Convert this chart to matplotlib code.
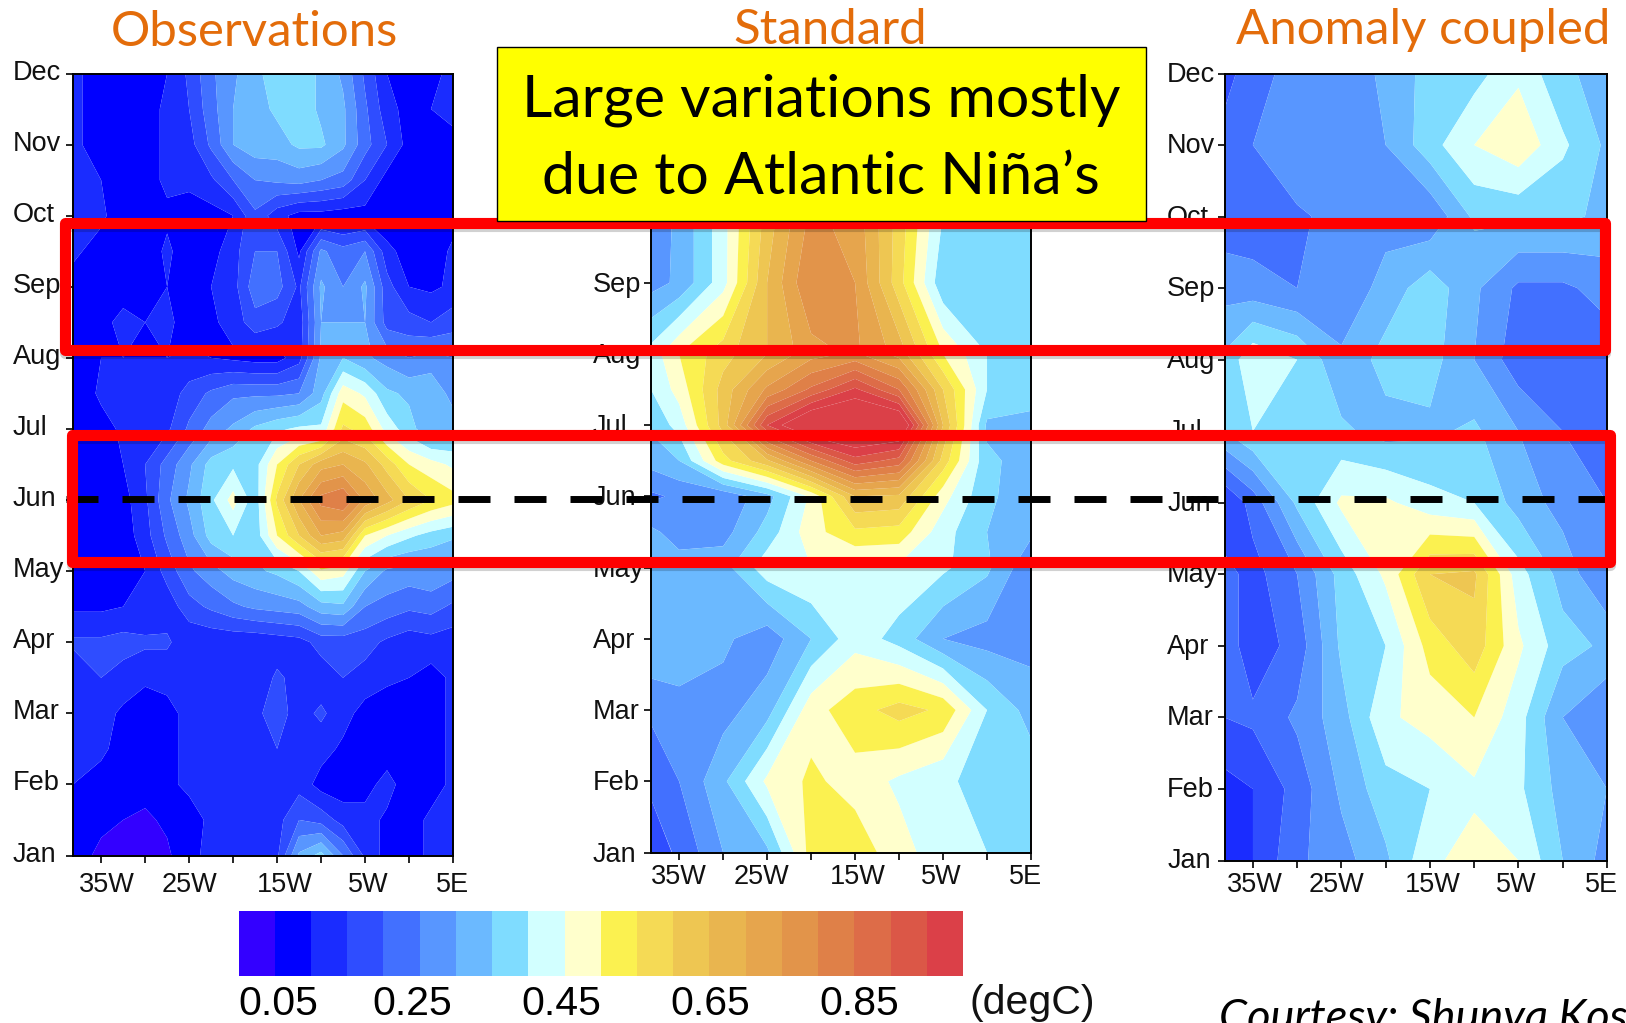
import numpy as np
import matplotlib
matplotlib.use("Agg")
import matplotlib.pyplot as plt
from matplotlib.colors import ListedColormap, BoundaryNorm
from matplotlib.cm import ScalarMappable
from matplotlib.lines import Line2D
from matplotlib.patches import Rectangle
from matplotlib.transforms import ScaledTranslation

W, H = 1626, 1023
plt.rcParams["lines.scale_dashes"] = False

months = ["Jan", "Feb", "Mar", "Apr", "May", "Jun", "Jul", "Aug", "Sep", "Oct", "Nov", "Dec"]
# Oct to Dec of the middle panel sit behind the yellow note
std_months = ["Jan", "Feb", "Mar", "Apr", "May", "Jun", "Jul", "Aug", "Sep", "", "", ""]
lon_ticks = [-35, -30, -25, -20, -15, -10, -5, 0, 5]
lon_labels = ["35W", "", "25W", "", "15W", "", "5W", "", "5E"]
cbar_ticks = [0.05, 0.25, 0.45, 0.65, 0.85]
cbar_labels = ["0.05", "0.25", "0.45", "0.65", "0.85"]

colors = ["#3300ff", "#0000ff", "#1a2cff", "#2f4dff", "#4270ff", "#5896ff", "#6bb9ff",
          "#7fdcff", "#d2ffff", "#ffffcc", "#fbf150", "#f5da55", "#eec652", "#e9b54f",
          "#e6a54d", "#e2944a", "#df8048", "#dd6c48", "#db5747", "#db4048"]
levels = np.arange(0, 1.0001, 0.05)

# observations, hundredths of degC, half month steps, Dec at the top
obs_lons = [-38.2, -35, -32.5, -30, -27.5, -25, -22.5, -20, -17.5, -15, -12.5, -10, -7.5, -5, -2.5, 0, 2.5, 5]
obs_rows = [
    [11, 8, 7, 7, 10, 16, 24, 29, 34, 37, 38, 34, 29, 19, 10, 9, 9, 11],
    [11, 8, 8, 8, 11, 15, 23, 30, 33, 36, 38, 34, 31, 21, 12, 8, 10, 11],
    [11, 8, 8, 8, 11, 13, 21, 30, 33, 33, 36, 36, 31, 22, 15, 8, 9, 9],
    [11, 10, 8, 8, 11, 11, 14, 20, 25, 26, 27, 25, 23, 15, 8, 8, 8, 9],
    [11, 11, 7, 6, 9, 8, 8, 10, 19, 12, 8, 8, 7, 8, 5, 7, 6, 8],
    [11, 8, 7, 7, 11, 7, 8, 13, 20, 20, 9, 26, 22, 25, 12, 7, 7, 11],
    [8, 7, 7, 7, 10, 7, 10, 13, 23, 22, 14, 31, 25, 31, 17, 10, 9, 11],
    [8, 8, 12, 10, 11, 8, 9, 12, 18, 16, 12, 30, 30, 30, 18, 17, 15, 18],
    [8, 10, 10, 10, 10, 11, 10, 9, 8, 8, 13, 31, 35, 31, 28, 25, 27, 25],
    [6, 11, 11, 11, 12, 17, 21, 24, 24, 24, 25, 33, 48, 44, 36, 34, 34, 28],
    [6, 8, 11, 11, 14, 21, 27, 31, 36, 39, 41, 41, 56, 53, 43, 37, 31, 33],
    [7, 8, 10, 15, 22, 29, 37, 39, 38, 50, 60, 68, 70, 66, 58, 50, 47, 44],
    [7, 7, 8, 14, 24, 31, 39, 47, 37, 56, 70, 82, 85, 74, 67, 60, 55, 52],
    [7, 6, 7, 13, 21, 28, 37, 40, 37, 50, 60, 70, 68, 50, 45, 41, 38, 36],
    [6, 6, 8, 10, 17, 24, 28, 32, 34, 36, 40, 49, 47, 35, 29, 28, 29, 27],
    [9, 9, 10, 11, 12, 18, 21, 24, 26, 27, 28, 33, 34, 25, 23, 21, 22, 19],
    [16, 16, 17, 16, 16, 11, 11, 11, 11, 12, 13, 17, 17, 17, 14, 12, 13, 12],
    [11, 15, 13, 11, 11, 11, 11, 12, 11, 16, 13, 12, 15, 13, 11, 10, 8, 11],
    [11, 12, 9, 7, 9, 11, 11, 14, 14, 17, 13, 16, 12, 8, 7, 7, 8, 11],
    [11, 11, 8, 7, 9, 11, 13, 13, 13, 15, 12, 12, 9, 8, 7, 7, 8, 11],
    [10, 8, 8, 7, 9, 11, 12, 13, 13, 13, 13, 8, 7, 8, 12, 7, 8, 11],
    [8, 6, 5, 4, 6, 8, 11, 12, 12, 13, 20, 18, 13, 12, 9, 8, 11, 11],
    [7, 4, 3, 3, 4, 9, 11, 13, 12, 14, 31, 37, 25, 14, 8, 8, 11, 11],
]

# model panels, hundredths of degC, Dec at the top
model_lons = [-38.2, -35, -30, -25, -20, -15, -10, -5, 0, 5]
std_y = [11, 10, 9, 8, 7, 6.5, 6, 5.5, 5, 4.5, 4, 3, 2, 1, 0]
std_rows = [
    [28, 30, 38, 50, 60, 60, 50, 40, 36, 36],
    [27, 30, 40, 55, 66, 65, 54, 40, 36, 36],
    [27, 31, 43, 62, 76, 73, 58, 40, 37, 37],
    [28, 31, 43, 65, 80, 75, 57, 36, 37, 37],
    [42, 50, 58, 65, 73, 76, 68, 50, 40, 40],
    [40, 47, 62, 76, 86, 96, 85, 60, 40, 38],
    [36, 42, 62, 95, 110, 112, 110, 65, 34, 33],
    [32, 35, 53, 64, 80, 93, 88, 58, 36, 33],
    [24, 26, 26, 33, 46, 65, 64, 47, 36, 32],
    [31, 28, 28, 37, 48, 54, 53, 42, 35, 31],
    [32, 32, 33, 43, 45, 44, 44, 41, 36, 26],
    [35, 32, 31, 27, 35, 43, 38, 30, 28, 28],
    [26, 29, 28, 33, 48, 53, 57, 54, 40, 33],
    [21, 25, 34, 46, 51, 48, 44, 41, 38, 38],
    [17, 21, 30, 34, 52, 53, 47, 42, 40, 36],
]
anom_y = list(range(11, -1, -1))
anom_rows = [
    [18, 23, 27, 27, 31, 37, 38, 44, 36, 33],
    [22, 25, 30, 28, 30, 38, 45, 49, 41, 34],
    [22, 22, 24, 27, 28, 26, 36, 36, 36, 34],
    [28, 27, 25, 26, 32, 38, 31, 24, 24, 27],
    [36, 44, 40, 31, 37, 37, 30, 22, 22, 22],
    [35, 40, 36, 36, 33, 34, 36, 30, 25, 24],
    [15, 22, 36, 46, 46, 42, 40, 33, 28, 25],
    [22, 18, 25, 37, 46, 60, 61, 42, 33, 25],
    [23, 17, 22, 36, 40, 52, 58, 46, 37, 34],
    [20, 21, 26, 33, 44, 47, 50, 42, 30, 25],
    [13, 15, 22, 31, 38, 40, 44, 41, 33, 30],
    [12, 15, 24, 28, 34, 44, 47, 45, 35, 28],
]

cmap = ListedColormap(colors)
cmap.set_under(colors[0])
cmap.set_over(colors[-1])
norm = BoundaryNorm(levels, cmap.N)

fig = plt.figure(figsize=(W / 100, H / 100), dpi=100)


def fx(x):
    return x / W


def fy(y):
    return 1 - y / H


def shift(label, dx, dy):
    label.set_transform(label.get_transform() + ScaledTranslation(dx / 100, -dy / 100, fig.dpi_scale_trans))


def panel(box, lons, rows, y_vals, ylabels, xoffs, ydy, xpad, ypad):
    x0, y0, x1, y1 = box
    ax = fig.add_axes([fx(x0), fy(y1), (x1 - x0) / W, (y1 - y0) / H])
    ax.contourf(lons, y_vals, np.array(rows) / 100, levels=levels, cmap=cmap, norm=norm,
                extend="both", antialiased=True)
    ax.set_xlim(lons[0], 5)
    ax.set_ylim(0, 11)
    ax.set_xticks(lon_ticks)
    ax.set_xticklabels(lon_labels, fontsize=19.5, family="Liberation Sans", color="#111111")
    ax.set_yticks(range(12))
    ax.set_yticklabels(ylabels, fontsize=19.5, family="Liberation Sans", color="#111111")
    ax.tick_params(axis="x", length=5, width=1.2, pad=xpad)
    ax.tick_params(axis="y", length=5, width=1.2, pad=ypad)
    for lab in ax.get_yticklabels():
        lab.set_horizontalalignment("left")
        shift(lab, 0, ydy)
    for lab, dx in zip(ax.get_xticklabels(), xoffs):
        shift(lab, dx, 0)
    for s in ax.spines.values():
        s.set_linewidth(1.4)
    return ax


obs_y = np.arange(22, -1, -1) / 2
panel((73, 73.5, 453, 855.5), obs_lons, obs_rows, obs_y, months, [6, 0, 0, 0, 8, 0, 3, 0, 0], -4, 7, 38.5)
panel((651, 69, 1031, 852.5), model_lons, std_rows, std_y, std_months, [0, 0, -6, 0, 3, 0, -2, 0, -5], -1, 3, 37)
panel((1224.5, 73.5, 1607, 860.5), model_lons, anom_rows, anom_y, months, [2, 0, -5, 0, 3, 0, -2, 0, -5], -2, 3, 36.3)

# colorbar
cax = fig.add_axes([fx(238.5), fy(976), 724.5 / W, 65 / H])
cb = fig.colorbar(ScalarMappable(norm=norm, cmap=cmap), cax=cax, orientation="horizontal",
                  ticks=cbar_ticks, spacing="uniform", drawedges=False)
cb.outline.set_visible(False)
cb.set_ticklabels(cbar_labels)
cb.minorticks_off()
cax.tick_params(axis="x", length=0, pad=6.5, labelsize=29.5)
for lab, dx in zip(cax.get_xticklabels(), [4, -7, -3, 1, 5]):
    lab.set_family("Liberation Sans")
    shift(lab, dx, 0)
fig.text(fx(1032), fy(1003), "(degC)", fontsize=29.5, family="Liberation Sans",
         ha="center", va="center", color="#111111")

# titles
orange = "#E36C0A"
fig.text(fx(254), fy(32), "Observations", fontsize=35.4, family="Lato", color=orange, ha="center", va="center")
fig.text(fx(830), fy(30), "Standard", fontsize=35.4, family="Lato", color=orange, ha="center", va="center")
fig.text(fx(1423), fy(30), "Anomaly coupled", fontsize=35.4, family="Lato", color=orange, ha="center", va="center")

# dashed June line, then red boxes over it
fig.add_artist(Line2D([fx(66), fx(1608)], [fy(499), fy(499)], transform=fig.transFigure, color="black",
                      linewidth=5, linestyle=(0, (32 * 0.72, 24 * 0.72)), dash_capstyle="butt", zorder=7))
for x0, y0, x1, y1 in [(65, 223, 1605, 350), (72, 435, 1610, 562)]:
    fig.add_artist(Rectangle((fx(x0), fy(y1 + 3)), (x1 - x0) / W, (y1 - y0) / H, transform=fig.transFigure,
                             facecolor="none", edgecolor="black", alpha=0.18, linewidth=8, joinstyle="round", zorder=7.5))
    fig.add_artist(Rectangle((fx(x0), fy(y1)), (x1 - x0) / W, (y1 - y0) / H, transform=fig.transFigure,
                             facecolor="none", edgecolor="#ff0000", linewidth=8, joinstyle="round", zorder=8))

# yellow note sits on top of the red box
fig.add_artist(Rectangle((fx(497), fy(221)), 649 / W, 174 / H, transform=fig.transFigure,
                         facecolor="#ffff00", edgecolor="black", linewidth=1, zorder=9))
fig.text(fx(821), fy(100), "Large variations mostly", fontsize=42.5, family="Lato", color="black",
         ha="center", va="center", zorder=10)
fig.text(fx(821), fy(177), "due to Atlantic Ni\u00f1a\u2019s", fontsize=42.5, family="Lato", color="black",
         ha="center", va="center", zorder=10)

fig.text(fx(1219), fy(1031), "Courtesy: Shunya Kos", fontsize=32.5, family="Lato", style="italic",
         color="black", ha="left", va="baseline")

fig.savefig("out.png", dpi=100)
